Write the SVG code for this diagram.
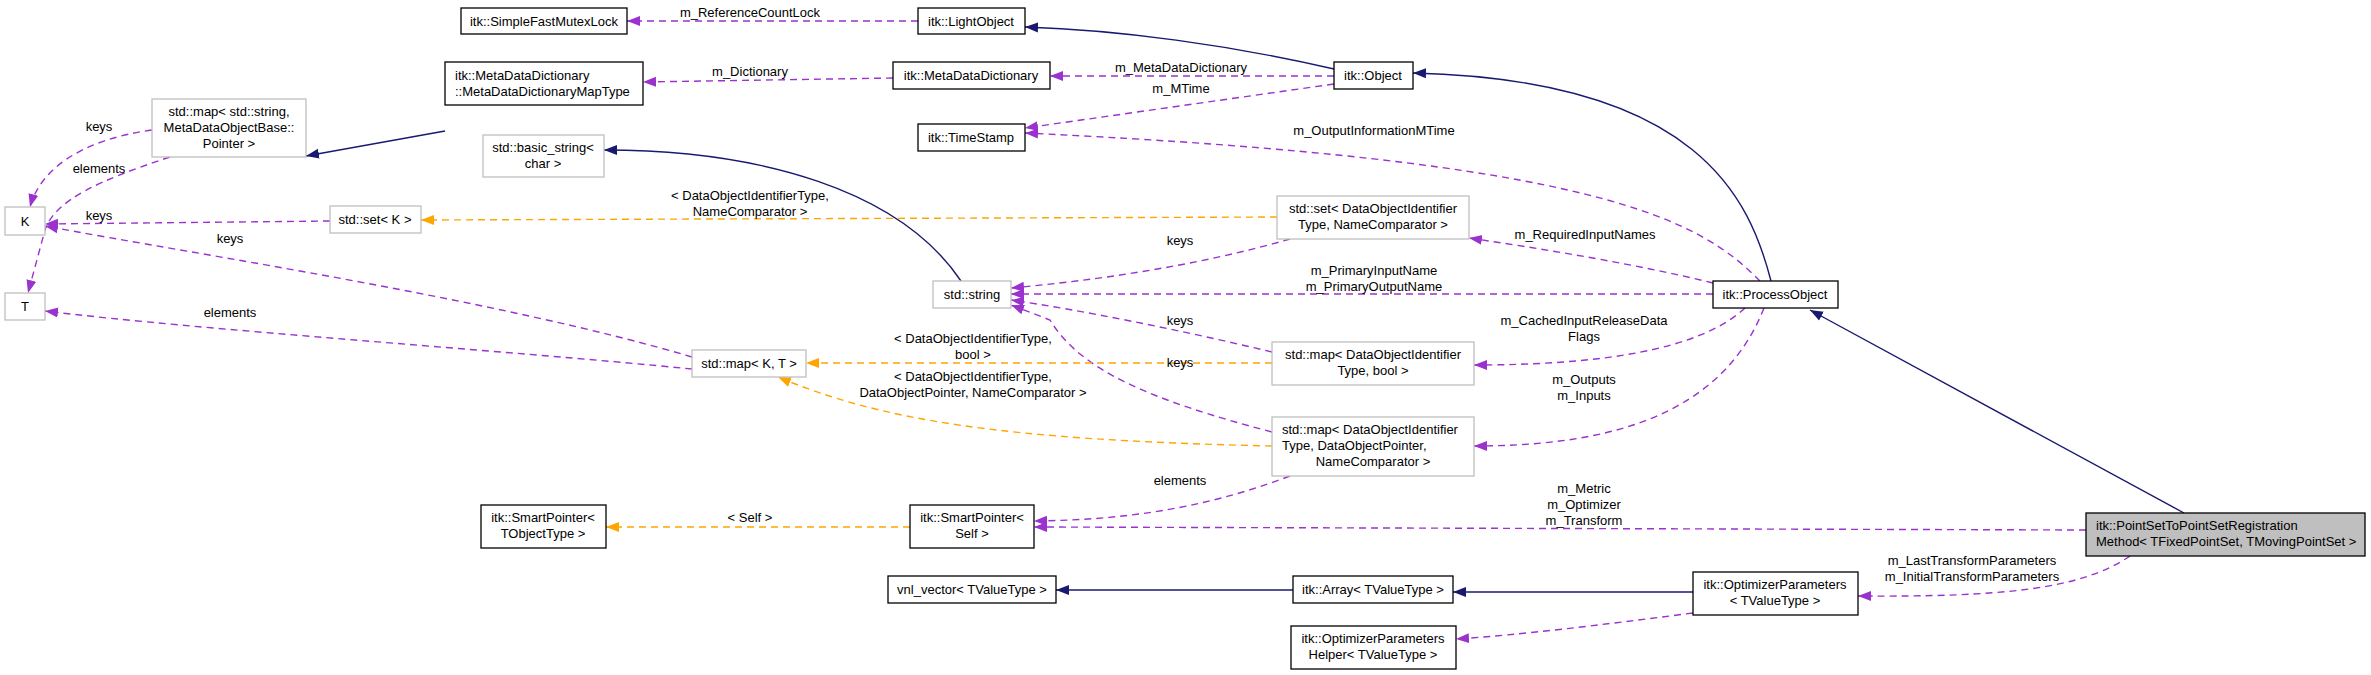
<svg xmlns="http://www.w3.org/2000/svg" width="2371" height="675" viewBox="0 0 2371 675">
<style>
text{font-family:"Liberation Sans",Arial,sans-serif;font-size:13px;fill:#000}
.c{text-anchor:middle}
.n{fill:#fff;stroke:#000;stroke-width:1.3}
.u{fill:#fff;stroke:#bfbfbf;stroke-width:1.3}
.g{fill:#bfbfbf;stroke:#000;stroke-width:1.3}
.inh{fill:none;stroke:#191970;stroke-width:1.4;marker-end:url(#an)}
.use{fill:none;stroke:#9a32cd;stroke-width:1.4;stroke-dasharray:7,5;marker-end:url(#ap)}
.tpl{fill:none;stroke:#ffa500;stroke-width:1.4;stroke-dasharray:7,5;marker-end:url(#ao)}
</style>
<defs>
<marker id="an" markerUnits="userSpaceOnUse" markerWidth="14" markerHeight="12" refX="13" refY="6" orient="auto"><path d="M0,1 L13,6 L0,11 z" fill="#191970"/></marker>
<marker id="ap" markerUnits="userSpaceOnUse" markerWidth="14" markerHeight="12" refX="13" refY="6" orient="auto"><path d="M0,1 L13,6 L0,11 z" fill="#9a32cd"/></marker>
<marker id="ao" markerUnits="userSpaceOnUse" markerWidth="14" markerHeight="12" refX="13" refY="6" orient="auto"><path d="M0,1 L13,6 L0,11 z" fill="#ffa500"/></marker>
</defs>
<rect width="2371" height="675" fill="#fff"/>
<g id="edges">
<path class="inh" d="M1334,69 C1230,45 1120,30 1025,27"/>
<path class="inh" d="M1771,281 C1750,200 1700,80 1413,73"/>
<path class="inh" d="M2184,513 L1810,310"/>
<path class="inh" d="M445,131 L306,156"/>
<path class="inh" d="M961,281 C900,190 760,150 604,150"/>
<path class="inh" d="M1293,590 L1056,590"/>
<path class="inh" d="M1693,592 L1453,592"/>
<path class="use" d="M918,21 L627,21"/>
<path class="use" d="M893,78 L643,82"/>
<path class="use" d="M1334,76 L1050,76"/>
<path class="use" d="M1334,84 L1025,128"/>
<path class="use" d="M1760,281 C1700,220 1600,160 1025,133"/>
<path class="use" d="M1713,283 C1640,265 1550,250 1469,238"/>
<path class="use" d="M1713,294 L1011,294"/>
<path class="use" d="M1745,308 C1700,350 1600,365 1474,365"/>
<path class="use" d="M1764,308 C1720,420 1600,446 1474,446"/>
<path class="use" d="M1290,239 C1200,265 1100,280 1011,288"/>
<path class="use" d="M1272,352 C1180,330 1080,310 1011,300"/>
<path class="use" d="M1272,432 C1150,400 1080,370 1050,320 L1011,305"/>
<path class="use" d="M1290,476 C1200,510 1120,520 1034,521"/>
<path class="use" d="M2086,530 L1034,527"/>
<path class="use" d="M2130,556 C2080,590 2000,597 1858,596"/>
<path class="use" d="M1693,613 C1600,625 1520,635 1456,639"/>
<path class="use" d="M152,130 C80,140 40,170 30,207"/>
<path class="use" d="M170,157 C100,180 55,200 45,230 L28,293"/>
<path class="use" d="M330,221 L45,224"/>
<path class="use" d="M692,357 C500,300 200,255 45,226"/>
<path class="use" d="M692,369 C500,350 200,330 45,311"/>
<path class="tpl" d="M1277,217 L421,220"/>
<path class="tpl" d="M1272,363 L806,363"/>
<path class="tpl" d="M1272,446 C1000,440 880,420 778,377"/>
<path class="tpl" d="M910,527 L606,527"/>
<g>
<text class="c" x="750" y="17">m_ReferenceCountLock</text>
<text class="c" x="750" y="76">m_Dictionary</text>
<text class="c" x="1181" y="72">m_MetaDataDictionary</text>
<text class="c" x="1181" y="93">m_MTime</text>
<text class="c" x="1374" y="135">m_OutputInformationMTime</text>
<text class="c" x="750" y="200">&lt; DataObjectIdentifierType,</text>
<text class="c" x="750" y="216">NameComparator &gt;</text>
<text class="c" x="1180" y="245">keys</text>
<text class="c" x="1374" y="275">m_PrimaryInputName</text>
<text class="c" x="1374" y="291">m_PrimaryOutputName</text>
<text class="c" x="1180" y="325">keys</text>
<text class="c" x="1585" y="239">m_RequiredInputNames</text>
<text class="c" x="1584" y="325">m_CachedInputReleaseData</text>
<text class="c" x="1584" y="341">Flags</text>
<text class="c" x="1584" y="384">m_Outputs</text>
<text class="c" x="1584" y="400">m_Inputs</text>
<text class="c" x="1584" y="493">m_Metric</text>
<text class="c" x="1584" y="509">m_Optimizer</text>
<text class="c" x="1584" y="525">m_Transform</text>
<text class="c" x="1972" y="565">m_LastTransformParameters</text>
<text class="c" x="1972" y="581">m_InitialTransformParameters</text>
<text class="c" x="973" y="343">&lt; DataObjectIdentifierType,</text>
<text class="c" x="973" y="359">bool &gt;</text>
<text class="c" x="1180" y="367">keys</text>
<text class="c" x="973" y="381">&lt; DataObjectIdentifierType,</text>
<text class="c" x="973" y="397">DataObjectPointer, NameComparator &gt;</text>
<text class="c" x="1180" y="485">elements</text>
<text class="c" x="750" y="522">&lt; Self &gt;</text>
<text class="c" x="99" y="131">keys</text>
<text class="c" x="99" y="173">elements</text>
<text class="c" x="99" y="220">keys</text>
<text class="c" x="230" y="243">keys</text>
<text class="c" x="230" y="317">elements</text>
</g>
</g>
<g id="n_sfml"><rect class="n" x="461" y="8" width="166" height="26"/><text class="c" x="544" y="26">itk::SimpleFastMutexLock</text></g>
<g id="n_maptype"><rect class="n" x="445" y="62" width="198" height="43"/><text x="455" y="80">itk::MetaDataDictionary</text><text x="455" y="96">::MetaDataDictionaryMapType</text></g>
<g id="n_mapstr"><rect class="u" x="152" y="99" width="154" height="58"/><text class="c" x="229" y="116">std::map&lt; std::string,</text><text class="c" x="229" y="132">MetaDataObjectBase::</text><text class="c" x="229" y="148">Pointer &gt;</text></g>
<g id="n_basicstr"><rect class="u" x="483" y="135" width="121" height="42"/><text class="c" x="543" y="152">std::basic_string&lt;</text><text class="c" x="543" y="168">char &gt;</text></g>
<g id="n_K"><rect class="u" x="5" y="207" width="40" height="28"/><text class="c" x="25" y="226">K</text></g>
<g id="n_setK"><rect class="u" x="330" y="206" width="91" height="27"/><text class="c" x="375" y="224">std::set&lt; K &gt;</text></g>
<g id="n_T"><rect class="u" x="5" y="293" width="40" height="27"/><text class="c" x="25" y="311">T</text></g>
<g id="n_light"><rect class="n" x="918" y="8" width="107" height="26"/><text class="c" x="971" y="26">itk::LightObject</text></g>
<g id="n_mdd"><rect class="n" x="893" y="62" width="157" height="27"/><text class="c" x="971" y="80">itk::MetaDataDictionary</text></g>
<g id="n_object"><rect class="n" x="1334" y="62" width="79" height="27"/><text class="c" x="1373" y="80">itk::Object</text></g>
<g id="n_ts"><rect class="n" x="918" y="124" width="107" height="27"/><text class="c" x="971" y="142">itk::TimeStamp</text></g>
<g id="n_setdoi"><rect class="u" x="1277" y="196" width="192" height="43"/><text class="c" x="1373" y="213">std::set&lt; DataObjectIdentifier</text><text class="c" x="1373" y="229">Type, NameComparator &gt;</text></g>
<g id="n_string"><rect class="u" x="933" y="281" width="78" height="27"/><text class="c" x="972" y="299">std::string</text></g>
<g id="n_mapKT"><rect class="u" x="692" y="350" width="114" height="27"/><text class="c" x="749" y="368">std::map&lt; K, T &gt;</text></g>
<g id="n_mapbool"><rect class="u" x="1272" y="342" width="202" height="43"/><text class="c" x="1373" y="359">std::map&lt; DataObjectIdentifier</text><text class="c" x="1373" y="375">Type, bool &gt;</text></g>
<g id="n_mapptr"><rect class="u" x="1272" y="417" width="202" height="59"/><text x="1282" y="434">std::map&lt; DataObjectIdentifier</text><text x="1282" y="450">Type, DataObjectPointer,</text><text class="c" x="1373" y="466">NameComparator &gt;</text></g>
<g id="n_spT"><rect class="n" x="481" y="505" width="125" height="43"/><text class="c" x="543" y="522">itk::SmartPointer&lt;</text><text class="c" x="543" y="538">TObjectType &gt;</text></g>
<g id="n_spSelf"><rect class="n" x="910" y="505" width="124" height="43"/><text class="c" x="972" y="522">itk::SmartPointer&lt;</text><text class="c" x="972" y="538">Self &gt;</text></g>
<g id="n_vnl"><rect class="n" x="888" y="576" width="168" height="27"/><text class="c" x="972" y="594">vnl_vector&lt; TValueType &gt;</text></g>
<g id="n_array"><rect class="n" x="1293" y="576" width="160" height="27"/><text class="c" x="1373" y="594">itk::Array&lt; TValueType &gt;</text></g>
<g id="n_helper"><rect class="n" x="1291" y="626" width="165" height="43"/><text class="c" x="1373" y="643">itk::OptimizerParameters</text><text class="c" x="1373" y="659">Helper&lt; TValueType &gt;</text></g>
<g id="n_process"><rect class="n" x="1713" y="281" width="125" height="27"/><text class="c" x="1775" y="299">itk::ProcessObject</text></g>
<g id="n_optparams"><rect class="n" x="1693" y="572" width="165" height="43"/><text class="c" x="1775" y="589">itk::OptimizerParameters</text><text class="c" x="1775" y="605">&lt; TValueType &gt;</text></g>
<g id="n_pointset"><rect class="g" x="2086" y="513" width="279" height="43"/><text x="2096" y="530">itk::PointSetToPointSetRegistration</text><text x="2096" y="546">Method&lt; TFixedPointSet, TMovingPointSet &gt;</text></g>
</svg>
